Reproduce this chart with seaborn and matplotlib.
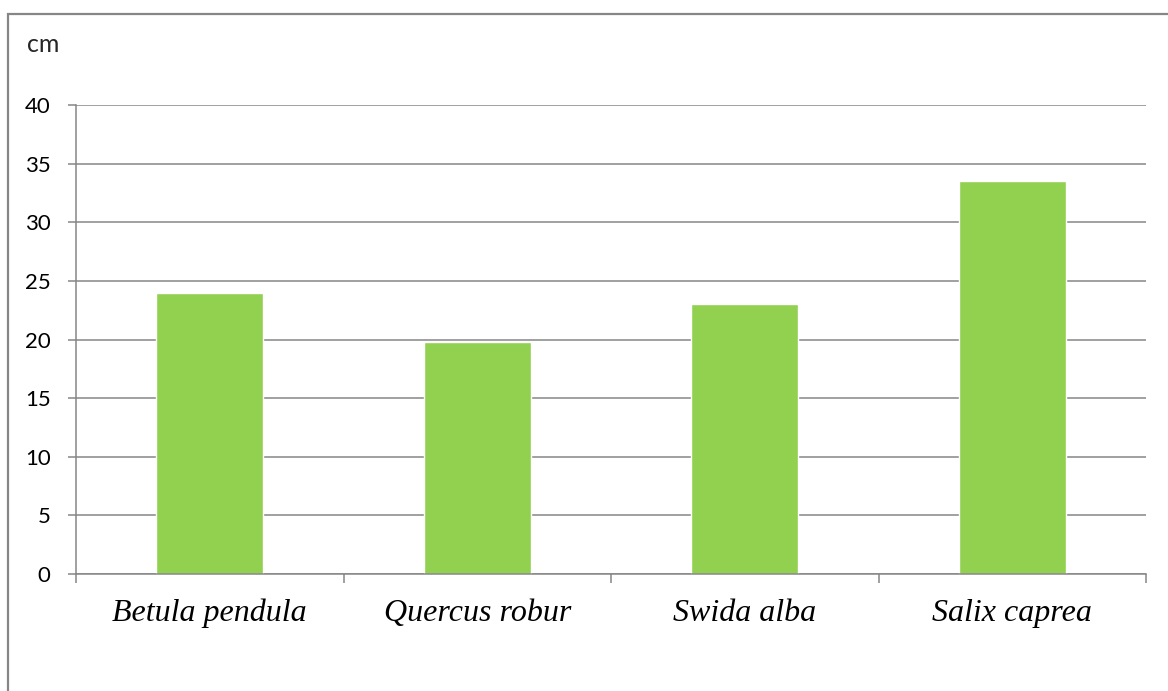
import matplotlib
matplotlib.use("Agg")
import matplotlib.pyplot as plt
from matplotlib.patches import Rectangle
import seaborn as sns
import pandas as pd

species = ["Betula pendula", "Quercus robur", "Swida alba", "Salix caprea"]
height_cm = [24.0, 19.8, 23.0, 33.5]
y_ticks = [0, 5, 10, 15, 20, 25, 30, 35, 40]

W, H = 1168, 691
GRAY = "#868686"
GREEN = "#92D050"

sns.set_theme(style="white")
plt.rcParams["font.family"] = ["Lato", "DejaVu Sans"]

fig = plt.figure(figsize=(W / 100, H / 100), dpi=100)
ax = fig.add_axes([76 / W, 1 - 574 / H, (1146 - 76) / W, (574 - 105) / H])

df = pd.DataFrame({"species": species, "height": height_cm})
sns.barplot(data=df, x="species", y="height", color=GREEN, width=0.4,
            saturation=1, ax=ax, zorder=3)

ax.set_xlim(-0.5, len(species) - 0.5)
ax.set_ylim(0, 40)
ax.set_yticks(y_ticks)
ax.set_yticklabels([str(v) for v in y_ticks], fontsize=16, color="black")
ax.yaxis.grid(True, color=GRAY, linewidth=1.1, zorder=0)
ax.set_axisbelow(True)

# category labels centred, boundary tick marks between them
ax.set_xticks(range(len(species)))
ax.set_xticklabels(species, fontsize=23, fontstyle="italic",
                   family=["Liberation Serif", "DejaVu Serif"], color="black")
ax.set_xticks([i - 0.5 for i in range(len(species) + 1)], minor=True)
ax.tick_params(axis="x", which="major", length=0, pad=18)
ax.tick_params(axis="x", which="minor", length=6.5, width=1.1, color=GRAY,
               direction="out", bottom=True)
ax.tick_params(axis="y", which="major", length=5.8, width=1.1, color=GRAY,
               direction="out", left=True, pad=12.5)

ax.set_xlabel("")
ax.set_ylabel("")
for side in ["top", "right"]:
    ax.spines[side].set_visible(False)
for side in ["left", "bottom"]:
    ax.spines[side].set_color(GRAY)
    ax.spines[side].set_linewidth(1.1)
    ax.spines[side].set_zorder(4)

fig.text(27 / W, 1 - 52 / H, "cm", fontsize=18, va="baseline", ha="left")

# outer chart frame
fig.patches.append(Rectangle((8 / W, -0.1), 1.2, 1 - 14 / H + 0.1,
                             transform=fig.transFigure, fill=False,
                             edgecolor=GRAY, linewidth=1.6, zorder=0))

fig.savefig("out.png", dpi=100)
